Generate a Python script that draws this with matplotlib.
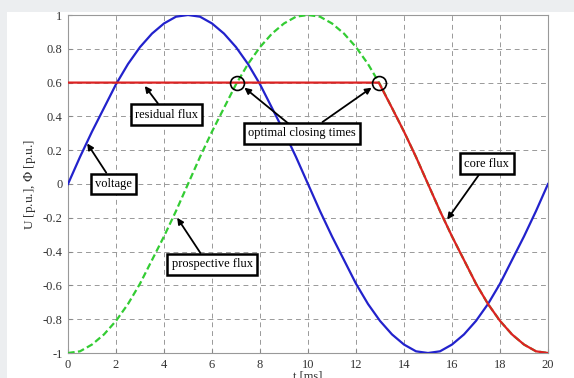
import numpy as np
import matplotlib
matplotlib.use("Agg")
import matplotlib.pyplot as plt
from matplotlib.patches import Rectangle

plt.rcParams['font.family'] = ['Liberation Serif', 'DejaVu Serif']
plt.rcParams['mathtext.fontset'] = 'stix'

# ---------------- data ----------------
t = [0, 0.5, 1, 1.5, 2, 2.5, 3, 3.5, 4, 4.5, 5, 5.5, 6, 6.5, 7, 7.5, 8, 8.5, 9, 9.5,
     10, 10.5, 11, 11.5, 12, 12.5, 13, 13.5, 14, 14.5, 15, 15.5, 16, 16.5, 17, 17.5,
     18, 18.5, 19, 19.5, 20]
voltage = [0, 0.16, 0.31, 0.45, 0.59, 0.71, 0.81, 0.89, 0.95, 0.99, 1.0, 0.99, 0.95,
           0.89, 0.81, 0.71, 0.59, 0.45, 0.31, 0.16, 0, -0.16, -0.31, -0.45, -0.59,
           -0.71, -0.81, -0.89, -0.95, -0.99, -1.0, -0.99, -0.95, -0.89, -0.81, -0.71,
           -0.59, -0.45, -0.31, -0.16, 0]
prospective = [-1.0, -0.99, -0.95, -0.89, -0.81, -0.71, -0.59, -0.45, -0.31, -0.16, 0,
               0.16, 0.31, 0.45, 0.59, 0.71, 0.81, 0.89, 0.95, 0.99, 1.0, 0.99, 0.95,
               0.89, 0.81, 0.71, 0.59, 0.45, 0.31, 0.16, 0, -0.16, -0.31, -0.45, -0.59,
               -0.71, -0.81, -0.89, -0.95, -0.99, -1.0]
core_t = [0, 12.95, 13.5, 14, 14.5, 15, 15.5, 16, 16.5, 17, 17.5, 18, 18.5, 19, 19.5, 20]
core = [0.6, 0.6, 0.45, 0.31, 0.16, 0, -0.16, -0.31, -0.45, -0.59, -0.71, -0.81,
        -0.89, -0.95, -0.99, -1.0]
closing_t = [7.05, 12.95]
closing_v = [0.6, 0.6]

xticks = [0, 2, 4, 6, 8, 10, 12, 14, 16, 18, 20]
yticks = [-1, -0.8, -0.6, -0.4, -0.2, 0, 0.2, 0.4, 0.6, 0.8, 1]
ytick_labels = ['-1', '-0.8', '-0.6', '-0.4', '-0.2', '0', '0.2', '0.4', '0.6', '0.8', '1']

# ---------------- figure ----------------
fig = plt.figure(figsize=(5.74, 3.78), dpi=100, facecolor='#eceef0')
fig.patches.append(Rectangle((7/574, 0), 1, 1 - 12/378, transform=fig.transFigure,
                             facecolor='white', edgecolor='none', zorder=-5))
ax = fig.add_axes([68/574, 1 - 353/378, 480/574, 338/378])
ax.set_zorder(1)

ax.plot(t, voltage, color='#2222cc', lw=1.6, zorder=3)
ax.plot(t, prospective, color='#33cc33', lw=1.6, ls=(0, (3, 1.5)), zorder=3)
ax.plot(core_t, core, color='#dd2222', lw=1.6, zorder=4)
ax.plot(closing_t, closing_v, 'o', ms=10, mfc='none', mec='black', mew=1.2, zorder=5)

ax.set_xlim(0, 20)
ax.set_ylim(-1, 1)
ax.set_xticks(xticks)
ax.set_yticks(yticks)
ax.set_yticklabels(ytick_labels)
ax.tick_params(direction='in', length=3, labelsize=9, color='#888888', pad=4,
               labelcolor='#333333')
ax.grid(True, color='#999999', ls=(0, (5, 4)), lw=0.7)
for s in ax.spines.values():
    s.set_color('#999999')
    s.set_linewidth(0.8)

ax.set_xlabel('t [ms]', fontsize=9, labelpad=0, color='#333333')
ax.set_ylabel(r'U [p.u.], $\Phi$ [p.u.]', fontsize=9.5, labelpad=3, color='#333333')

box = dict(boxstyle='square,pad=0.35', fc='white', ec='black', lw=1.8)
arr = dict(arrowstyle='-|>', color='black', lw=1.3, mutation_scale=9, shrinkA=0, shrinkB=0)

ax.annotate('voltage', xy=(0.8, 0.24), xytext=(1.9, 0.0), fontsize=9, ha='center',
            va='center', bbox=box, arrowprops=arr, zorder=6)
ax.annotate('residual flux', xy=(3.2, 0.58), xytext=(4.1, 0.41), fontsize=9, ha='center',
            va='center', bbox=box, arrowprops=arr, zorder=6)
ax.annotate('', xy=(7.35, 0.57), xytext=(9.25, 0.35), arrowprops=arr, zorder=6)
ax.annotate('optimal closing times', xy=(12.65, 0.57), xytext=(9.75, 0.30), fontsize=9,
            ha='center', va='center', bbox=box, zorder=6,
            arrowprops=dict(arr, relpos=(0.62, 1.0)))
ax.annotate('core flux', xy=(15.8, -0.21), xytext=(17.45, 0.12), fontsize=9, ha='center',
            va='center', bbox=box, arrowprops=arr, zorder=6)
ax.annotate('prospective flux', xy=(4.55, -0.2), xytext=(6.0, -0.475), fontsize=9,
            ha='center', va='center', bbox=box, zorder=6,
            arrowprops=dict(arr, relpos=(0.4, 1.0)))

fig.savefig('out.png', dpi=100, facecolor=fig.get_facecolor())
